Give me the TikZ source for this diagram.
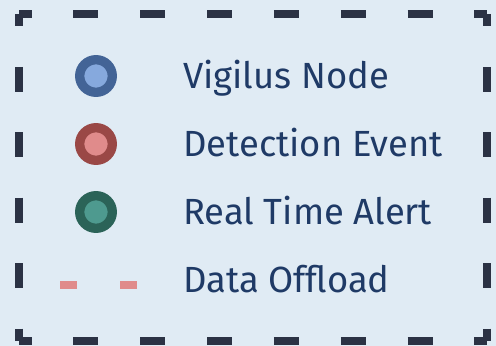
\documentclass[tikz,border=0pt]{standalone}
\usepackage{fontspec}
\setmainfont{Fira Sans}
\usetikzlibrary{calc}

\definecolor{legendbg}{HTML}{E0EBF4}
\definecolor{framedark}{HTML}{2B3244}
\definecolor{labelnavy}{HTML}{1F3A66}
\definecolor{nodeline}{HTML}{436496}
\definecolor{nodefill}{HTML}{86A9DD}
\definecolor{eventline}{HTML}{9A4846}
\definecolor{eventfill}{HTML}{E08B8B}
\definecolor{alertline}{HTML}{2B6358}
\definecolor{alertfill}{HTML}{4E9A8F}

\tikzset{
	frameline/.style={line width=6pt,color=framedark,line cap=square,dash phase=9.375pt},
	marker/.style={circle,draw,line width=7pt,minimum size=24.45pt,inner sep=0pt},
	legendtext/.style={anchor=base west,inner sep=0pt,text=labelnavy,font=\fontsize{27.3}{32}\selectfont},
	offload/.style={line width=6pt,color=eventfill,dash pattern=on 12.5pt off 32.5pt}
}

\begin{document}
\begin{tikzpicture}[x=0.75pt,y=-0.75pt]
	\fill[legendbg] (0,0) rectangle (496,346);
	\useasboundingbox (0,0) rectangle (496,346);
	
	% dashed frame
	\coordinate (tl) at (19,14);
	\coordinate (tr) at (487,14);
	\coordinate (br) at (487,341);
	\coordinate (bl) at (19,341);
		\draw[frameline,dash pattern=on 18.75pt off 31.39pt] (tl) -- (tr);
		\draw[frameline,dash pattern=on 18.75pt off 31.39pt] (bl) -- (br);
		\draw[frameline,dash pattern=on 18.75pt off 30.3pt] (tl) -- (bl);
		\draw[frameline,dash pattern=on 18.75pt off 30.3pt] (tr) -- (br);
	
	% markers
	\node[marker,draw=nodeline,fill=nodefill] (vnode) at (96,76) {};
	\node[marker,draw=eventline,fill=eventfill] (devent) at (96,144) {};
	\node[marker,draw=alertline,fill=alertfill] (rtalert) at (96,212) {};
	\coordinate (offA) at (60,285);
	\coordinate (offB) at (137,285);
		\draw[offload] (offA) -- (offB);
	
	% labels
	\node[legendtext] (vnodetxt) at (183,88.5) {Vigilus Node};
	\node[legendtext] (deventtxt) at (183,156.5) {Detection Event};
	\node[legendtext] (rtalerttxt) at (183,224.5) {Real Time Alert};
	\node[legendtext] (offtxt) at (183,292.5) {Data Offload};
\end{tikzpicture}
\end{document}
